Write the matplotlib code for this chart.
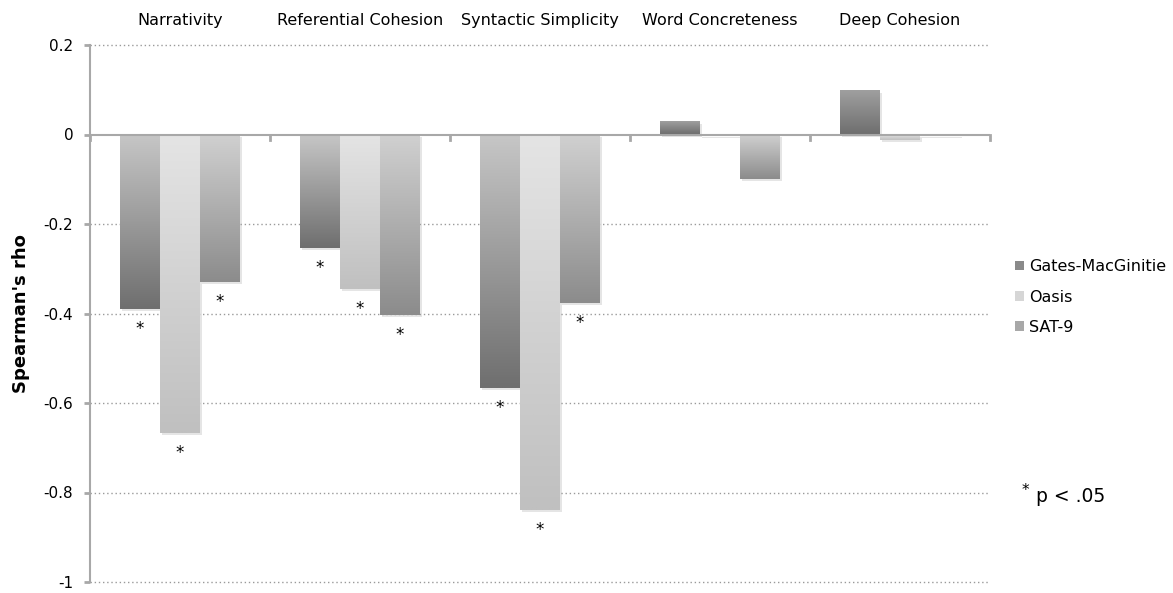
import numpy as np
import matplotlib.pyplot as plt
import matplotlib.patheffects as pe
from matplotlib.colors import to_rgb
from matplotlib.patches import Patch

categories = ['Narrativity', 'Referential Cohesion', 'Syntactic Simplicity',
              'Word Concreteness', 'Deep Cohesion']
series = ['Gates-MacGinitie', 'Oasis', 'SAT-9']
gates = [-0.39, -0.253, -0.567, 0.029, 0.098]
oasis = [-0.667, -0.345, -0.838, -0.003, -0.013]
sat9 = [-0.329, -0.403, -0.377, -0.10, -0.003]
gates_sig = [True, True, True, False, False]
oasis_sig = [True, True, True, False, False]
sat9_sig = [True, True, True, False, False]
yticks = [0.2, 0, -0.2, -0.4, -0.6, -0.8, -1]
ytick_labels = ['0.2', '0', '-0.2', '-0.4', '-0.6', '-0.8', '-1']

# gradient colours (top, bottom) per series
grads = {'Gates-MacGinitie': ('#c6c6c6', '#6f6f6f'),
         'Oasis': ('#e4e4e4', '#c0c0c0'),
         'SAT-9': ('#d0d0d0', '#8c8c8c')}
legend_cols = {'Gates-MacGinitie': '#8a8a8a', 'Oasis': '#d6d6d6', 'SAT-9': '#a8a8a8'}

plt.rcParams['font.family'] = 'DejaVu Sans'
fig = plt.figure(figsize=(11.73, 5.93), dpi=100)
ax = fig.add_axes([90 / 1173, 1 - 582 / 593, 900 / 1173, 537 / 593])

x = np.arange(len(categories))
w = 0.222
data = [gates, oasis, sat9]
sigs = [gates_sig, oasis_sig, sat9_sig]
for i, (name, vals, sig) in enumerate(zip(series, data, sigs)):
    bars = ax.bar(x + (i - 1) * w, vals, w, color='#bbbbbb', zorder=2,
                  path_effects=[pe.SimplePatchShadow(offset=(1.5, -1.5), shadow_rgbFace='#aaaaaa', alpha=0.3),
                                pe.Normal()])
    top, bot = grads[name]
    for b, v, s in zip(bars, vals, sig):
        x0, x1 = b.get_x(), b.get_x() + b.get_width()
        y0, y1 = sorted([0, v])
        t, bo = np.array(to_rgb(top)), np.array(to_rgb(bot))
        if v > 0:
            t = t * 0.55 + bo * 0.45
        grad = np.linspace(t, bo, 64).reshape(64, 1, 3)
        ax.imshow(grad, extent=[x0, x1, y0, y1], origin='upper', aspect='auto',
                  interpolation='bilinear', zorder=3)
        if s:
            ax.text(b.get_x() + b.get_width() / 2, v - 0.045, '*', ha='center',
                    va='center', fontsize=12, zorder=4)

ax.set_xlim(-0.5, len(categories) - 0.5)
ax.set_ylim(-1, 0.2)
ax.set_yticks(yticks)
ax.set_yticklabels(ytick_labels, fontsize=11)
ax.set_xticks([])
for yv in yticks:
    if yv != 0:
        ax.axhline(yv, color='#9a9a9a', lw=1, ls=(0, (1, 2)), zorder=1, clip_on=False)
ax.axhline(0, color='#a8a8a8', lw=1.5, zorder=5)
for xb in np.arange(len(categories) + 1) - 0.5:
    ax.plot([xb, xb], [0, -0.012], color='#a8a8a8', lw=2, zorder=5, clip_on=False)

for sp in ['top', 'right', 'bottom']:
    ax.spines[sp].set_visible(False)
ax.spines['left'].set_color('#a8a8a8')
ax.spines['left'].set_linewidth(1.5)
ax.tick_params(axis='y', length=4, width=2, color='#a8a8a8', pad=8)
ax.set_ylabel("Spearman's rho", fontsize=13, fontweight='bold', labelpad=10)

for xi, c in zip(x, categories):
    ax.text(xi, 1.045, c, ha='center', va='center', fontsize=11.5,
            transform=ax.get_xaxis_transform())

handles = [Patch(facecolor=legend_cols[s], edgecolor='none', label=s) for s in series]
fig.legend(handles=handles, loc='center left', bbox_to_anchor=(1015 / 1173, 1 - 297 / 593),
           frameon=False, fontsize=11.5, handlelength=0.55, handleheight=0.55,
           handletextpad=0.35, labelspacing=0.95, borderpad=0, borderaxespad=0)

fig.text(1022 / 1173, 1 - 491 / 593, '*', fontsize=11, va='center')
fig.text(1036 / 1173, 1 - 497 / 593, 'p < .05', fontsize=13.5, va='center')

fig.savefig('out.png', dpi=100)
